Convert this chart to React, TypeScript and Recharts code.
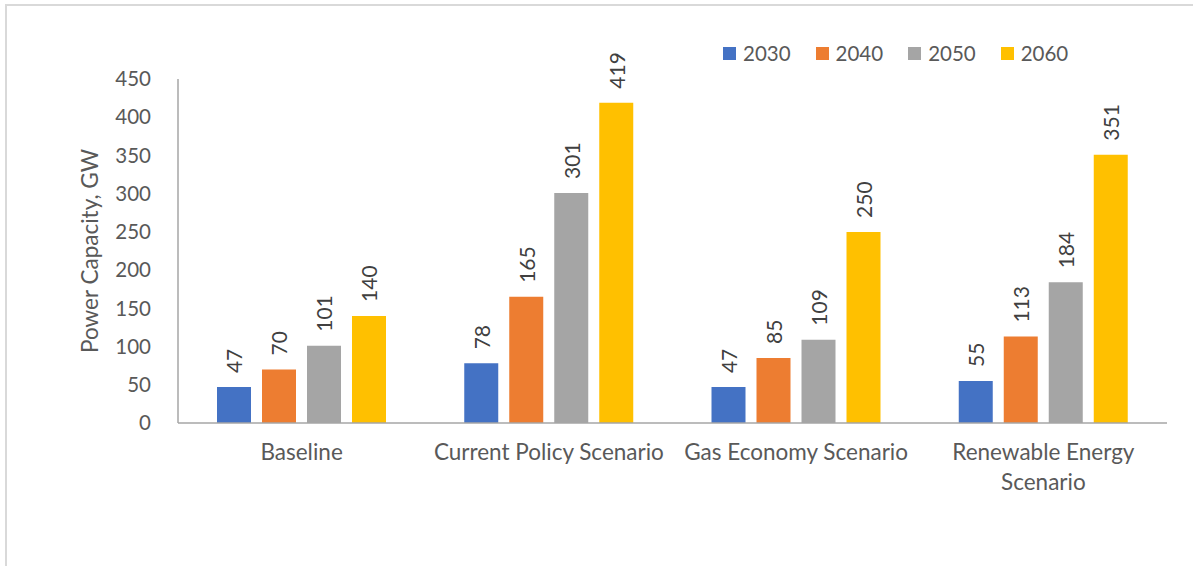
import React from "react";
import { BarChart, Bar, XAxis, YAxis, Legend, LabelList, Label } from "recharts";

const categories = ["Baseline", "Current Policy Scenario", "Gas Economy Scenario", "Renewable Energy\nScenario"];
const years = ["2030", "2040", "2050", "2060"];
const v2030 = [47, 78, 47, 55];
const v2040 = [70, 165, 85, 113];
const v2050 = [101, 301, 109, 184];
const v2060 = [140, 419, 250, 351];
const yTicks = [0, 50, 100, 150, 200, 250, 300, 350, 400, 450];
const colors = ["#4472C4", "#ED7D31", "#A5A5A5", "#FFC000"];

const series = [v2030, v2040, v2050, v2060];
const data = categories.map((c, i) => {
  const row: any = { name: c };
  years.forEach((y, j) => (row[y] = series[j][i]));
  return row;
});

const FONT = "Lato, 'Open Sans', sans-serif";
const TEXT = "#595959";

const XTick = (props: any) => {
  const { x, y, payload } = props;
  const lines = String(payload.value).split("\n");
  return (
    <text x={x} y={y} textAnchor="middle" fill={TEXT} fontSize={22.5} fontFamily={FONT}>
      {lines.map((l, i) => (
        <tspan key={i} x={x} dy={i === 0 ? 29 : 30}>
          {l}
        </tspan>
      ))}
    </text>
  );
};

const BarLabel = (props: any) => {
  const { x, y, width, value } = props;
  const cx = x + width / 2;
  const cy = y - 14;
  return (
    <text
      x={cx}
      y={cy}
      transform={`rotate(-90, ${cx}, ${cy})`}
      textAnchor="start"
      dominantBaseline="central"
      fill="#404040"
      fontSize={21}
      fontFamily={FONT}
    >
      {value}
    </text>
  );
};

const LegendContent = () => (
  <div style={{ display: "flex", alignItems: "center", fontFamily: FONT, fontSize: 20.5, color: TEXT }}>
    {years.map((y, i) => (
      <div key={y} style={{ display: "flex", alignItems: "center", marginRight: 25 }}>
        <div style={{ width: 13, height: 13, background: colors[i], marginRight: 7 }} />
        <span>{y}</span>
      </div>
    ))}
  </div>
);

export default function App() {
  return (
    <div style={{ position: "absolute", left: 0, top: 0, width: 1193, height: 566, background: "#fff", overflow: "hidden" }}>
      <div
        style={{
          position: "absolute",
          left: 5,
          top: 4,
          width: 1210,
          height: 600,
          border: "2px solid #d9d9d9",
        }}
      />
      <div style={{ position: "absolute", left: 0, top: 0 }}>
        <BarChart
          width={1193}
          height={566}
          data={data}
          margin={{ top: 79, right: 26, bottom: 83, left: 78 }}
          barSize={34}
          barGap={11}
        >
          <XAxis
            dataKey="name"
            tick={<XTick />}
            tickLine={false}
            axisLine={{ stroke: "#a6a6a6", strokeWidth: 1.5 }}
            interval={0}
            height={60}
          />
          <YAxis
            width={100}
            domain={[0, 450]}
            ticks={yTicks}
            tickLine={false}
            tickSize={0}
            tickMargin={27}
            axisLine={{ stroke: "#a6a6a6", strokeWidth: 1.5 }}
            tick={{ fill: TEXT, fontSize: 20.5, fontFamily: FONT }}
            interval={0}
          >
            <Label
              value="Power Capacity, GW"
              angle={-90}
              position="insideLeft"
              offset={0}
              dx={12}
              style={{ textAnchor: "middle", fill: TEXT, fontSize: 22.5, fontFamily: FONT }}
            />
          </YAxis>
          <Legend
            layout="vertical"
            align="center"
            verticalAlign="middle"
            wrapperStyle={{ top: 41, left: 723, width: "auto" }}
            content={<LegendContent />}
          />
          {years.map((y, i) => (
            <Bar key={y} dataKey={y} fill={colors[i]} isAnimationActive={false}>
              <LabelList dataKey={y} content={<BarLabel />} />
            </Bar>
          ))}
        </BarChart>
      </div>
    </div>
  );
}
